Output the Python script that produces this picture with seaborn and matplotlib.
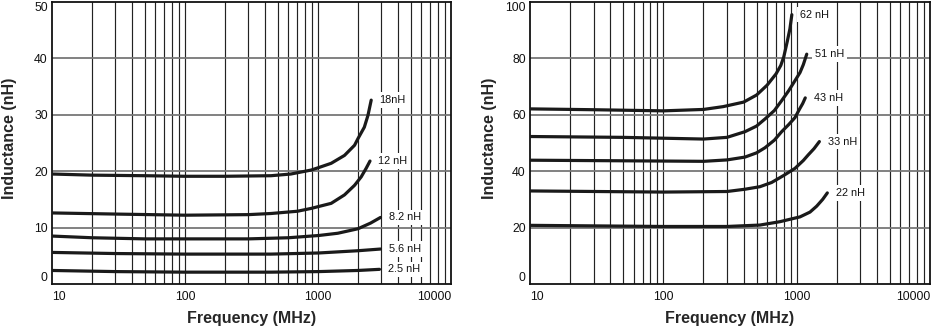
import matplotlib
matplotlib.use("Agg")
import matplotlib.pyplot as plt
import numpy as np
import pandas as pd
import seaborn as sns
from matplotlib.ticker import LogLocator, NullFormatter

# ---------------- data (left panel) ----------------
left_names = ["18nH", "12 nH", "8.2 nH", "5.6 nH", "2.5 nH"]
f_18 = [10, 20, 50, 100, 200, 443, 625, 887, 1000, 1256, 1582, 1883, 2000, 2230, 2375, 2512]
L_18 = [19.5, 19.3, 19.2, 19.1, 19.1, 19.2, 19.5, 20.2, 20.6, 21.4, 22.8, 24.6, 25.8, 27.8, 29.9, 32.6]
f_12 = [10, 30, 100, 300, 443, 700, 887, 1256, 1582, 1883, 2113, 2300, 2460]
L_12 = [12.6, 12.4, 12.2, 12.3, 12.5, 12.9, 13.4, 14.3, 15.8, 17.5, 19.0, 20.5, 21.8]
f_8p2 = [10, 20, 50, 100, 300, 600, 1013, 1410, 2000, 2485, 2950]
L_8p2 = [8.5, 8.2, 8.0, 8.0, 8.0, 8.2, 8.6, 9.0, 9.8, 10.8, 11.8]
f_5p6 = [10, 30, 100, 443, 1013, 2000, 2950]
L_5p6 = [5.6, 5.4, 5.3, 5.3, 5.5, 5.9, 6.2]
f_2p5 = [10, 30, 100, 443, 1013, 2000, 2900]
L_2p5 = [2.4, 2.2, 2.1, 2.1, 2.2, 2.4, 2.6]

# ---------------- data (right panel) ----------------
right_names = ["62 nH", "51 nH", "43 nH", "33 nH", "22 nH"]
f_62 = [10, 30, 100, 200, 281, 400, 500, 600, 700, 760, 800, 850, 890, 920]
L_62 = [62.1, 61.8, 61.4, 61.9, 62.9, 64.5, 67.0, 70.5, 74.5, 77.5, 80.5, 86.0, 90.5, 95.5]
f_51 = [10, 50, 100, 200, 300, 409, 500, 578, 680, 771, 870, 971, 1060, 1122, 1190]
L_51 = [52.3, 52.0, 51.7, 51.4, 52.0, 54.0, 56.0, 58.5, 61.5, 65.0, 68.5, 72.1, 75.0, 77.8, 81.5]
f_43 = [10, 100, 200, 300, 409, 500, 578, 680, 771, 870, 971, 1050, 1110, 1160]
L_43 = [43.9, 43.6, 43.5, 44.0, 45.0, 46.5, 48.3, 51.0, 54.0, 56.5, 59.0, 62.0, 64.0, 66.0]
f_33 = [10, 100, 300, 409, 530, 649, 800, 971, 1122, 1222, 1350, 1480]
L_33 = [33.0, 32.6, 32.8, 33.6, 34.5, 36.0, 38.5, 41.0, 43.8, 45.8, 48.0, 50.5]
f_22 = [10, 100, 300, 530, 750, 1059, 1259, 1413, 1567, 1698]
L_22 = [20.8, 20.4, 20.4, 20.9, 22.1, 23.8, 25.5, 27.6, 30.0, 32.3]

x_ticks = [10, 100, 1000, 10000]
x_ticklabels = ["10", "100", "1000", "10000"]
left_yticks = [0, 10, 20, 30, 40, 50]
right_yticks = [0, 20, 40, 60, 80, 100]
x_label = "Frequency (MHz)"
y_label = "Inductance (nH)"


def long_frame(names, freqs, vals):
    rows = []
    for n, fs, vs in zip(names, freqs, vals):
        for f, v in zip(fs, vs):
            rows.append({"curve": n, "freq": f, "L": v})
    return pd.DataFrame(rows)


df_left = long_frame(left_names, [f_18, f_12, f_8p2, f_5p6, f_2p5],
                     [L_18, L_12, L_8p2, L_5p6, L_2p5])
df_right = long_frame(right_names, [f_62, f_51, f_43, f_33, f_22],
                      [L_62, L_51, L_43, L_33, L_22])

sns.set_theme(style="white")
plt.rcParams["font.family"] = ["Liberation Sans", "DejaVu Sans"]

fig = plt.figure(figsize=(9.32, 3.26), dpi=100)
ax_l = fig.add_axes([52 / 932, 42 / 326, 399 / 932, 282 / 326])
ax_r = fig.add_axes([530 / 932, 42 / 326, 400 / 932, 282 / 326])


def draw(ax, df, names, yticks, ylab_off):
    sns.lineplot(data=df, x="freq", y="L", hue="curve", units="curve",
                 estimator=None, sort=False,
                 palette={n: "#1a1a1a" for n in names}, linewidth=2.3,
                 legend=False, ax=ax, zorder=3)
    ax.set_xscale("log")
    ax.set_xlim(10, 10000)
    ax.set_ylim(yticks[0], yticks[-1])
    ax.set_xticks(x_ticks)
    ax.set_xticklabels(x_ticklabels)
    ax.xaxis.set_minor_locator(LogLocator(base=10, subs=np.arange(2, 10)))
    ax.xaxis.set_minor_formatter(NullFormatter())
    ax.set_yticks(yticks)
    ax.set_yticklabels([str(t) for t in yticks])
    ax.tick_params(axis="both", which="both", length=0, labelsize=8.8,
                   colors="#111111")
    ax.tick_params(axis="x", pad=5)
    ax.tick_params(axis="y", pad=3)
    ax.grid(False)
    for xv in ax.xaxis.get_minorticklocs().tolist() + [100, 1000]:
        if 10 < xv < 10000:
            ax.axvline(xv, color="#222222", linewidth=0.85, zorder=1)
    for yv in yticks[1:-1]:
        ax.axhline(yv, color="#777777", linewidth=1.3, zorder=1)
    for s in ax.spines.values():
        s.set_visible(True)
        s.set_color("#111111")
        s.set_linewidth(1.3)
    ax.set_xlabel(x_label, fontsize=11.5, fontweight="bold", labelpad=6)
    ax.set_ylabel(y_label, fontsize=11.5, fontweight="bold")
    ax.yaxis.set_label_coords(ylab_off, 0.518)
    xt = ax.xaxis.get_major_ticks()
    xt[0].label1.set_horizontalalignment("left")
    xt[-1].label1.set_horizontalalignment("right")
    yt = ax.yaxis.get_major_ticks()
    yt[0].label1.set_verticalalignment("bottom")
    yt[-1].label1.set_verticalalignment("top")
    for n in names:
        sub = df[df["curve"] == n]
        ax.annotate(n, xy=(sub["freq"].iloc[-1], sub["L"].iloc[-1]),
                    xytext=(6, 0), textcoords="offset points",
                    ha="left", va="center", fontsize=7.8, color="#111111",
                    bbox=dict(boxstyle="square,pad=0.25", fc="white", ec="none"),
                    zorder=4)


draw(ax_l, df_left, left_names, left_yticks, -35 / 399)
draw(ax_r, df_right, right_names, right_yticks, -32.6 / 400)

fig.savefig("out.png", dpi=100, facecolor="white")
